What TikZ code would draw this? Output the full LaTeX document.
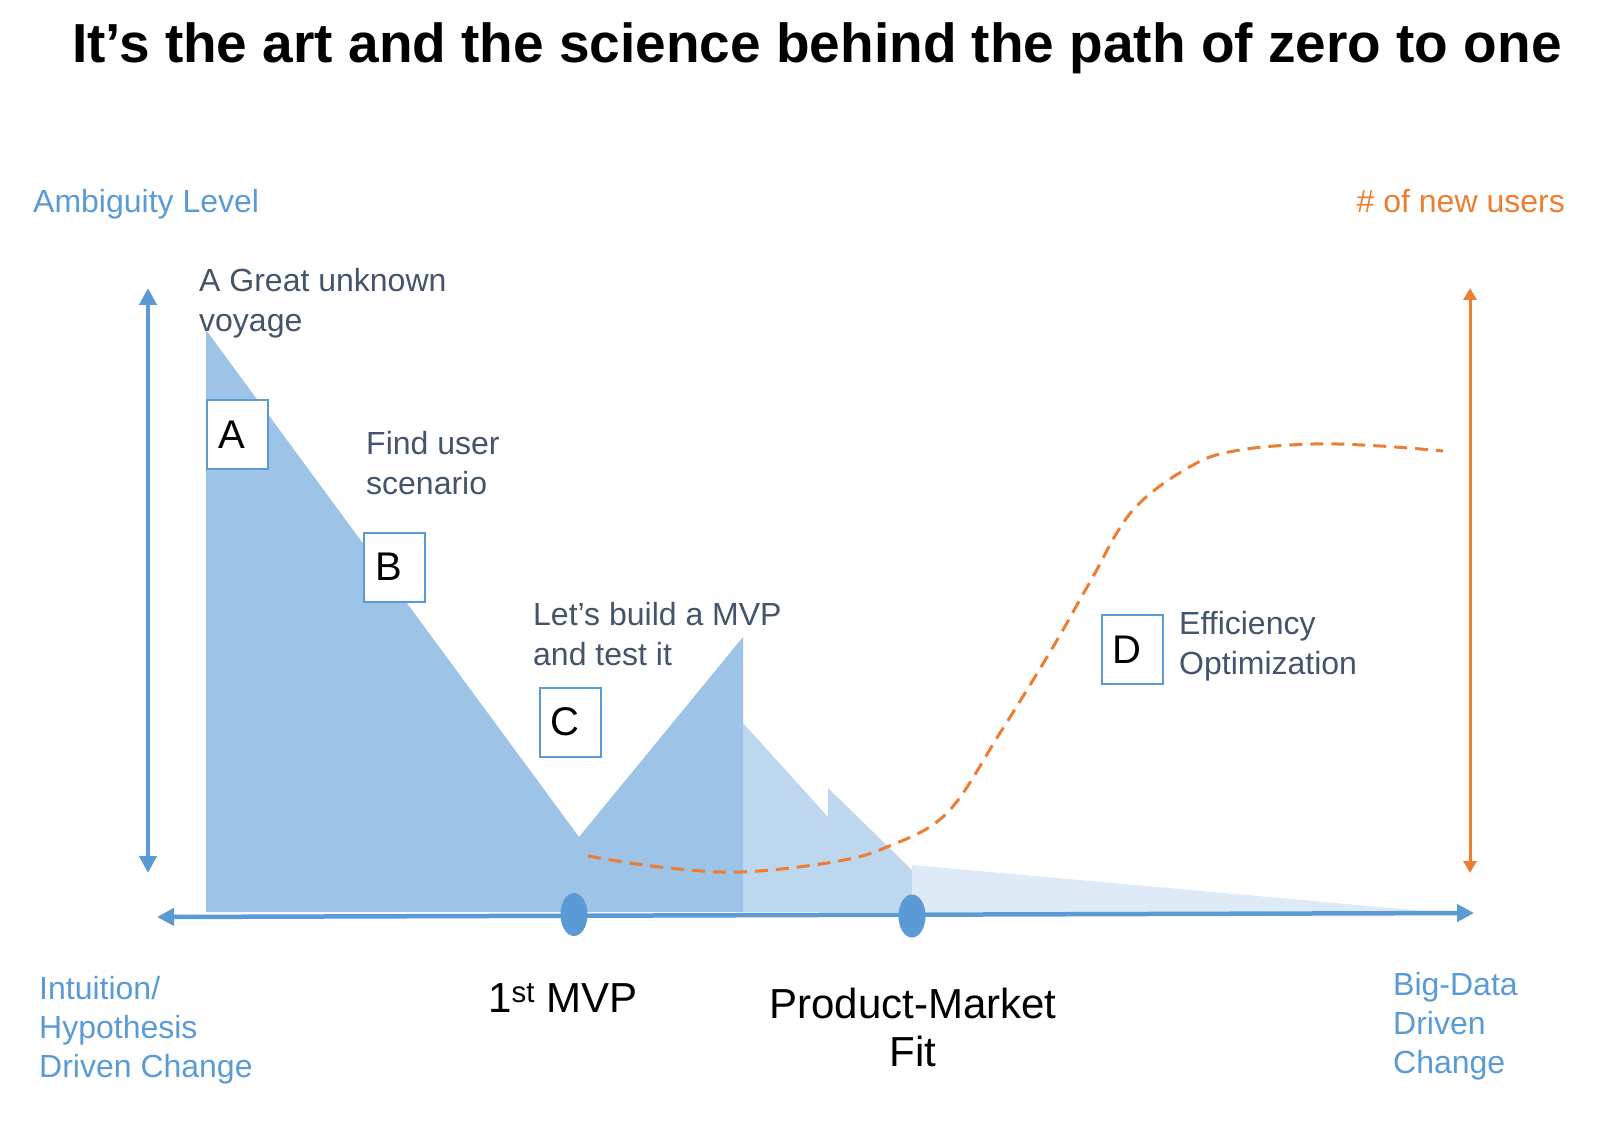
\documentclass[tikz,border=0pt]{standalone}
\usepackage{fontspec}
\setmainfont{Liberation Sans}
\usetikzlibrary{arrows.meta,positioning,shapes.geometric}
\definecolor{axisblue}{HTML}{5B9BD5}
\definecolor{usersorange}{HTML}{ED7D31}
\definecolor{notegray}{HTML}{44546A}
\definecolor{fillA}{HTML}{9DC3E6}
\definecolor{fillB}{HTML}{BDD7EE}
\definecolor{fillC}{HTML}{DEEBF7}
\begin{document}
\begin{tikzpicture}[x=1pt,y=-1pt,
    every node/.style={inner sep=0pt},
    note/.style={anchor=base west,align=left,text=notegray,font=\fontsize{32}{39.5}\selectfont},
    sidelabel/.style={anchor=base west,align=left,text=axisblue,font=\fontsize{32}{39}\selectfont},
    stagebox/.style={draw=axisblue,line width=2pt,fill=white,minimum height=69pt,text width=39pt,inner xsep=11pt,align=left,font=\fontsize{40}{40}\selectfont},
    milestone/.style={anchor=base,align=center,font=\fontsize{42}{48}\selectfont},
    dot/.style={ellipse,fill=axisblue,minimum width=27pt,minimum height=43pt},
    blueaxis/.style={draw=axisblue,line width=4.5pt,{Triangle[length=17pt,width=17pt]}-{Triangle[length=17pt,width=17pt]}},
    orangeaxis/.style={draw=usersorange,line width=3pt,{Triangle[length=12pt,width=13pt]}-{Triangle[length=12pt,width=13pt]}}]
    \useasboundingbox (0,0) rectangle (1600,1139);
    \node[anchor=base,font=\fontsize{55}{55}\selectfont\bfseries] (title) at (817,63) {It’s the art and the science behind the path of zero to one};
    \node[sidelabel] (ambiguity) at (33,213) {Ambiguity Level};
    \node[anchor=base east,text=usersorange,font=\fontsize{32}{39}\selectfont] (newusers) at (1565,213) {\# of new users};
    \fill[fillA] (206,330) -- (579,837) -- (743,637) -- (743,912) -- (206,912) -- cycle;
    \fill[fillB] (743,723) -- (828,817) -- (828,788) -- (912,870) -- (912,912) -- (743,912) -- cycle;
    \fill[fillC] (912,865) -- (1436,912) -- (912,912) -- cycle;
    \coordinate (ytop) at (148,288);
    \coordinate (ybot) at (148,873);
    \coordinate (utop) at (1470,288);
    \coordinate (ubot) at (1470,873);
    \coordinate (xleft) at (157,917);
    \coordinate (xright) at (1474,913);
    \draw[blueaxis] (ybot) -- (ytop);
    \draw[orangeaxis] (ubot) -- (utop);
    \draw[blueaxis] (xleft) -- (xright);
    \draw[usersorange,line width=3pt,dash pattern=on 13pt off 8pt] plot[smooth,tension=0.6] coordinates {(588,856) (660,867) (740,872) (833,862) (887,847) (947,813) (1000,733) (1053,647) (1090,582) (1133,510) (1193,465) (1240,450) (1313,444) (1380,446) (1443,451)};
    \node[dot] (mvpdot) at (574,914.5) {};
    \node[dot] (fitdot) at (912,916) {};
    \node[note] (voyage) at (199,331) {A Great unknown\\voyage};
    \node[note] (scenario) at (366,494) {Find user\\scenario};
    \node[note] (buildmvp) at (533,665) {Let’s build a MVP\\and test it};
    \node[note] (efficiency) at (1179,674) {Efficiency\\Optimization};
    \node[stagebox] (boxA) at (237.5,434.5) {A};
    \node[stagebox] (boxB) at (394.5,567) {B};
    \node[stagebox] (boxC) at (570,722) {C};
    \node[stagebox] (boxD) at (1132,649.5) {D};
    \node[sidelabel] (intuition) at (39,1077) {Intuition/\\Hypothesis\\Driven Change};
    \node[sidelabel] (bigdata) at (1393,1073) {Big-Data\\Driven\\Change};
    \node[milestone] (firstmvp) at (563,1012) {1\textsuperscript{st} MVP};
    \node[milestone] (pmfit) at (913,1066) {Product-Market\\Fit};
\end{tikzpicture}
\end{document}
